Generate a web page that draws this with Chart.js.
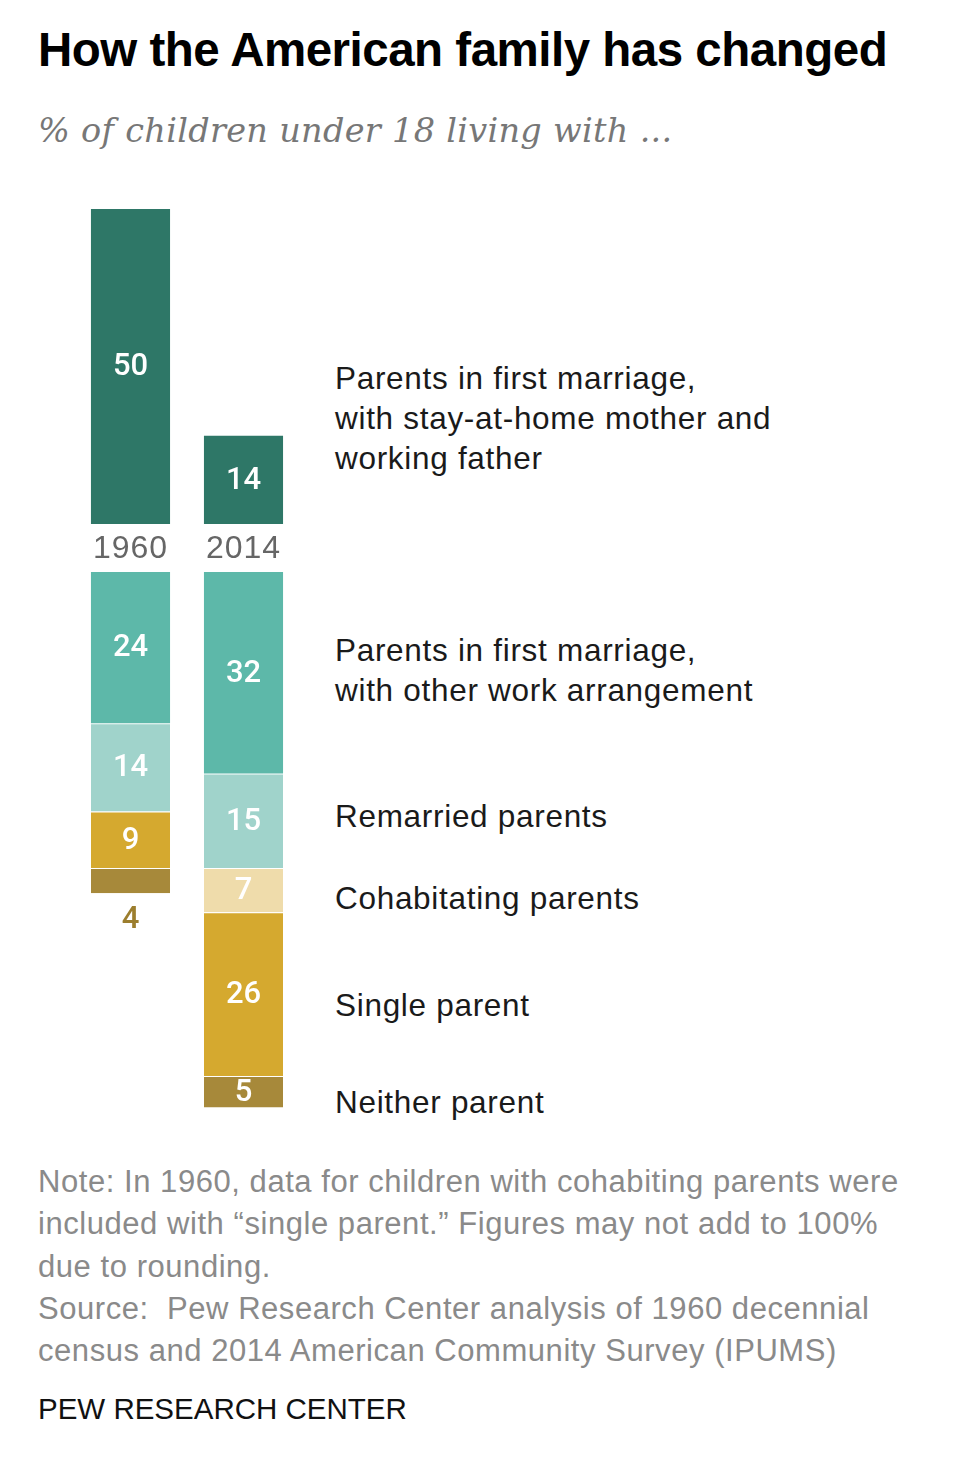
<!DOCTYPE html>
<html>
<head>
<meta charset="utf-8">
<script src="https://cdn.jsdelivr.net/npm/chart.js@4.4.1/dist/chart.umd.min.js"></script>
<style>
  body { margin: 0; background: #fff; width: 980px; height: 1457px; position: relative; overflow: hidden; font-family: "Liberation Sans", Arial, sans-serif; }
  .abs { position: absolute; white-space: nowrap; }
  #title { left: 38px; top: 22px; font-size: 47.5px; font-weight: bold; color: #000; letter-spacing: -0.5px; }
  #subtitle { left: 38px; top: 111px; font-family: "DejaVu Serif", serif; font-style: italic; font-size: 33.5px; letter-spacing: 0.3px; color: #777; }
  .cat { left: 335px; font-size: 31.5px; line-height: 40px; letter-spacing: 0.7px; color: #1a1a1a; }
  #note { left: 38px; top: 1161px; font-size: 31px; line-height: 42.3px; letter-spacing: 0.55px; color: #8a8a8a; }
  #brand { left: 38px; top: 1392px; font-size: 29.5px; color: #111; }
  canvas { position: absolute; }
</style>
</head>
<body>
<div id="title" class="abs">How the American family has changed</div>
<div id="subtitle" class="abs">% of children under 18 living with ...</div>
<canvas id="topChart" width="226" height="363" style="left:74px;top:209px;width:226px;height:363px"></canvas>
<canvas id="bottomChart" width="226" height="567" style="left:74px;top:572px;width:226px;height:567px"></canvas>
<div id="labels"></div>
<div id="note" class="abs">Note: In 1960, data for children with cohabiting parents were<br>included with “single parent.” Figures may not add to 100%<br>due to rounding.<br>Source:&nbsp; Pew Research Center analysis of 1960 decennial<br>census and 2014 American Community Survey (IPUMS)</div>
<div id="brand" class="abs">PEW RESEARCH CENTER</div>
<script>
// data
var years = ['1960', '2014']
var categories = [
	['Parents in first marriage,', 'with stay-at-home mother and', 'working father'],
	['Parents in first marriage,', 'with other work arrangement'],
	['Remarried parents'],
	['Cohabitating parents'],
	['Single parent'],
	['Neither parent']
]
var stayAtHome = [50, 14]
var otherWork = [24, 32]
var remarried = [14, 15]
var cohabiting = [null, 7]
var singleParent = [9, 26]
var neitherParent = [4, 5]

var colors = ['#2e7767', '#5db8a9', '#a0d3cb', '#efdcab', '#d5a92f', '#a7893a']

// where the category labels sit (top of each text block)
var labelTops = [358, 630, 796, 878, 985, 1082]
var box = document.getElementById('labels')
categories.forEach(function (lines, i) {
	var d = document.createElement('div')
	d.className = 'abs cat'
	d.style.top = labelTops[i] + 'px'
	d.innerHTML = lines.join('<br>')
	box.appendChild(d)
})

var valueLabels = {
	id: 'valueLabels',
	afterDatasetsDraw: function (chart) {
		var ctx = chart.ctx
		ctx.save()
		ctx.textAlign = 'center'
		ctx.textBaseline = 'middle'
		ctx.font = '500 31px Roboto, "Liberation Sans", sans-serif'
		chart.data.datasets.forEach(function (ds, di) {
			var meta = chart.getDatasetMeta(di)
			meta.data.forEach(function (bar, i) {
				var v = ds.data[i]
				if (v == null) return
				var top = Math.min(bar.y, bar.base)
				var bottom = Math.max(bar.y, bar.base)
				if (v < 5) {
					// too thin, put it under the bar
					ctx.fillStyle = '#9c7e2e'
					ctx.fillText(v, bar.x, bottom + 27)
				} else {
					ctx.fillStyle = '#fff'
					ctx.fillText(v, bar.x, (top + bottom) / 2 + 1)
				}
			})
		})
		ctx.restore()
	}
}

var yearLabels = {
	id: 'yearLabels',
	afterDraw: function (chart) {
		var ctx = chart.ctx
		var x = chart.scales.x
		ctx.save()
		ctx.textAlign = 'center'
		ctx.textBaseline = 'middle'
		ctx.font = '32px "Liberation Sans", Arial, sans-serif'
		ctx.letterSpacing = '1px'
		ctx.fillStyle = '#666'
		years.forEach(function (y, i) {
			ctx.fillText(y, x.getPixelForValue(i), chart.chartArea.bottom + 25)
		})
		ctx.restore()
	}
}

function baseOptions(max, reverse) {
	return {
		responsive: false,
		animation: false,
		devicePixelRatio: 1,
		layout: { padding: { bottom: reverse ? 0 : 48 } },
		scales: {
			x: { display: false, stacked: true },
			y: { display: false, stacked: true, min: 0, max: max, reverse: reverse }
		},
		plugins: { legend: { display: false }, tooltip: { enabled: false } }
	}
}

function bar(data, color, sep) {
	return {
		data: data,
		backgroundColor: color,
		borderColor: 'rgba(255,255,255,0.8)',
		borderWidth: sep ? { top: 1, right: 0, bottom: 0, left: 0 } : 0,
		borderSkipped: false,
		barPercentage: 0.7,
		categoryPercentage: 1
	}
}

new Chart(document.getElementById('topChart'), {
	type: 'bar',
	data: { labels: years, datasets: [bar(stayAtHome, colors[0], false)] },
	options: baseOptions(50, false),
	plugins: [valueLabels, yearLabels]
})

new Chart(document.getElementById('bottomChart'), {
	type: 'bar',
	data: {
		labels: years,
		datasets: [
			bar(otherWork, colors[1], false),
			bar(remarried, colors[2], true),
			bar(cohabiting, colors[3], true),
			bar(singleParent, colors[4], true),
			bar(neitherParent, colors[5], true)
		]
	},
	options: baseOptions(90, true),
	plugins: [valueLabels]
})
</script>
</body>
</html>
